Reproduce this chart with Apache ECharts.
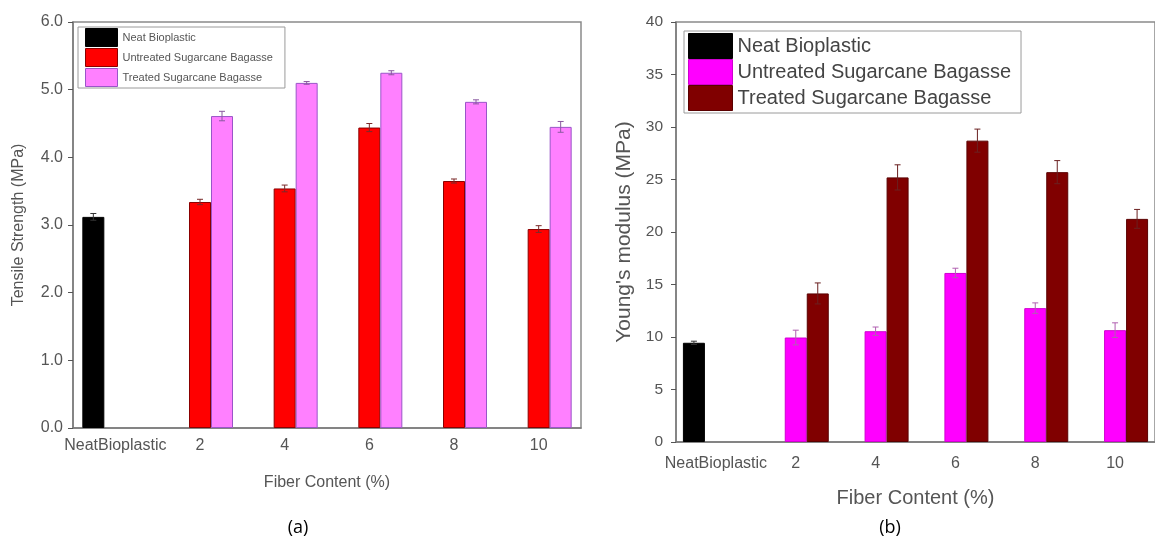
<!DOCTYPE html>
<html>
<head>
<meta charset="utf-8">
<script src="https://cdn.jsdelivr.net/npm/echarts@6/dist/echarts.min.js"></script>
<style>
  html, body { margin: 0; padding: 0; background: #fff; }
  #chart { width: 1155px; height: 543px; }
</style>
</head>
<body>
<div id="chart"></div>
<script>
var categories = ['NeatBioplastic', '2', '4', '6', '8', '10'];
var seriesNames = ['Neat Bioplastic', 'Untreated Sugarcane Bagasse', 'Treated Sugarcane Bagasse'];

// (a) tensile strength, MPa
var tensileNeat = [3.12, '-', '-', '-', '-', '-'];
var tensileUntreated = ['-', 3.34, 3.54, 4.44, 3.65, 2.94];
var tensileTreated = ['-', 4.61, 5.10, 5.25, 4.82, 4.45];
var tensileNeatErr = [0.05, 0, 0, 0, 0, 0];
var tensileUntreatedErr = [0, 0.04, 0.05, 0.06, 0.03, 0.05];
var tensileTreatedErr = [0, 0.07, 0.02, 0.03, 0.03, 0.08];

// (b) young's modulus, MPa
var modulusNeat = [9.45, '-', '-', '-', '-', '-'];
var modulusUntreated = ['-', 9.95, 10.55, 16.1, 12.75, 10.65];
var modulusTreated = ['-', 14.15, 25.2, 28.7, 25.7, 21.25];
var modulusNeatErr = [0.15, 0, 0, 0, 0, 0];
var modulusUntreatedErr = [0, 0.7, 0.4, 0.45, 0.5, 0.7];
var modulusTreatedErr = [0, 1.0, 1.2, 1.1, 1.1, 0.9];

var FONT = '"Liberation Sans", Arial, sans-serif';
var BAR_W = 22;

var colorsA = ['#000000', '#ff0000', '#ff80ff'];
var bordersA = ['#000000', '#8a0000', '#9a55c8'];
var colorsB = ['#000000', '#ff00ff', '#800000'];
var bordersB = ['#000000', '#d000d0', '#5a0000'];

function barSeries(name, data, idx, color, border) {
  return {
    name: name,
    type: 'bar',
    xAxisIndex: idx,
    yAxisIndex: idx,
    barWidth: BAR_W,
    barGap: '0%',
    data: data,
    itemStyle: { color: color, borderColor: border, borderWidth: 1 },
    emphasis: { disabled: true }
  };
}

// error bars, k = position inside the group (-1, 0, 1)
function errSeries(vals, errs, idx, k, color) {
  var d = [];
  vals.forEach(function (v, i) {
    if (v !== '-') d.push([i, v, errs[i]]);
  });
  return {
    type: 'custom',
    xAxisIndex: idx,
    yAxisIndex: idx,
    z: 5,
    silent: true,
    encode: { x: 0, y: 1 },
    data: d,
    renderItem: function (params, api) {
      var i = api.value(0), v = api.value(1), e = api.value(2);
      var hi = api.coord([i, v + e]);
      var lo = api.coord([i, v - e]);
      var cx = hi[0] + k * BAR_W;
      var st = { stroke: color, lineWidth: 1 };
      return {
        type: 'group',
        children: [
          { type: 'line', shape: { x1: cx, y1: lo[1], x2: cx, y2: hi[1] }, style: st },
          { type: 'line', shape: { x1: cx - 3, y1: hi[1], x2: cx + 3, y2: hi[1] }, style: st },
          { type: 'line', shape: { x1: cx - 3, y1: lo[1], x2: cx + 3, y2: lo[1] }, style: st }
        ]
      };
    }
  };
}

function xAxisCfg(idx, fs, margin, nameGap, nameFs, color) {
  return {
    type: 'category',
    gridIndex: idx,
    data: categories,
    name: 'Fiber Content (%)',
    nameLocation: 'middle',
    nameGap: nameGap,
    nameTextStyle: { fontFamily: FONT, fontSize: nameFs, color: color },
    axisLine: { lineStyle: { color: '#7a7a7a', width: 1.5 } },
    axisTick: { alignWithLabel: true, length: 5, lineStyle: { color: '#555' } },
    axisLabel: { fontFamily: FONT, fontSize: fs, color: color, margin: margin, interval: 0 },
    splitLine: { show: false }
  };
}

var chart = echarts.init(document.getElementById('chart'));

var option = {
  backgroundColor: '#ffffff',
  animation: false,
  grid: [
    { left: 73, top: 22, width: 508, height: 406, show: true, borderColor: '#8a8a8a', borderWidth: 1.5 },
    { left: 676, top: 22, width: 488, height: 420, show: true, borderColor: '#8a8a8a', borderWidth: 1.5 }
  ],
  legend: [
    {
      orient: 'vertical',
      left: 78, top: 27,
      padding: [1, 12, 1, 7],
      itemGap: 1,
      itemWidth: 32, itemHeight: 18,
      borderColor: '#9a9a9a', borderWidth: 1,
      textStyle: { fontFamily: FONT, fontSize: 11, color: '#555' },
      selectedMode: false,
      data: seriesNames.map(function (n, i) {
        return { name: n, icon: 'rect', itemStyle: { color: colorsA[i], borderColor: bordersA[i], borderWidth: 1 } };
      })
    },
    {
      orient: 'vertical',
      left: 684, top: 31,
      padding: [2, 10, 2, 4],
      itemGap: 0,
      itemWidth: 44, itemHeight: 25,
      borderColor: '#9a9a9a', borderWidth: 1,
      textStyle: { fontFamily: FONT, fontSize: 20, color: '#444' },
      selectedMode: false,
      data: seriesNames.map(function (n, i) {
        return { name: n, icon: 'rect', itemStyle: { color: colorsB[i], borderColor: bordersB[i], borderWidth: 1 } };
      })
    }
  ],
  xAxis: [
    xAxisCfg(0, 16, 10, 47, 16, '#555'),
    xAxisCfg(1, 16, 14, 46, 20, '#555')
  ],
  yAxis: [
    {
      type: 'value', gridIndex: 0, min: 0, max: 6, interval: 1,
      name: 'Tensile Strength (MPa)', nameLocation: 'middle', nameGap: 46,
      nameTextStyle: { fontFamily: FONT, fontSize: 16, color: '#555' },
      axisLine: { show: true, lineStyle: { color: '#7a7a7a', width: 1.5 } },
      axisTick: { show: true, length: 5, lineStyle: { color: '#555' } },
      axisLabel: { fontFamily: FONT, fontSize: 16, color: '#555', margin: 10, formatter: function (v) { return v.toFixed(1); } },
      splitLine: { show: false }
    },
    {
      type: 'value', gridIndex: 1, min: 0, max: 40, interval: 5,
      name: "Young's modulus (MPa)", nameLocation: 'middle', nameGap: 41,
      nameTextStyle: { fontFamily: FONT, fontSize: 21, color: '#555' },
      axisLine: { show: true, lineStyle: { color: '#7a7a7a', width: 1.5 } },
      axisTick: { show: true, length: 5, lineStyle: { color: '#555' } },
      axisLabel: { fontFamily: FONT, fontSize: 15.5, color: '#555', margin: 13 },
      splitLine: { show: false }
    }
  ],
  series: [
    barSeries(seriesNames[0], tensileNeat, 0, colorsA[0], bordersA[0]),
    barSeries(seriesNames[1], tensileUntreated, 0, colorsA[1], bordersA[1]),
    barSeries(seriesNames[2], tensileTreated, 0, colorsA[2], bordersA[2]),
    barSeries(seriesNames[0], modulusNeat, 1, colorsB[0], bordersB[0]),
    barSeries(seriesNames[1], modulusUntreated, 1, colorsB[1], bordersB[1]),
    barSeries(seriesNames[2], modulusTreated, 1, colorsB[2], bordersB[2]),
    errSeries(tensileNeat, tensileNeatErr, 0, -1, '#333'),
    errSeries(tensileUntreated, tensileUntreatedErr, 0, 0, '#7a2a2a'),
    errSeries(tensileTreated, tensileTreatedErr, 0, 1, '#8a5aa0'),
    errSeries(modulusNeat, modulusNeatErr, 1, -1, '#333'),
    errSeries(modulusUntreated, modulusUntreatedErr, 1, 0, '#b060b0'),
    errSeries(modulusTreated, modulusTreatedErr, 1, 1, '#6a2020')
  ],
  graphic: [
    { type: 'text', x: 298, y: 528, style: { text: '(a)', font: '18px "Open Sans", sans-serif', fill: '#000', textAlign: 'center', textVerticalAlign: 'middle' } },
    { type: 'text', x: 890, y: 528, style: { text: '(b)', font: '18px "Open Sans", sans-serif', fill: '#000', textAlign: 'center', textVerticalAlign: 'middle' } }
  ]
};

chart.setOption(option);
</script>
</body>
</html>
